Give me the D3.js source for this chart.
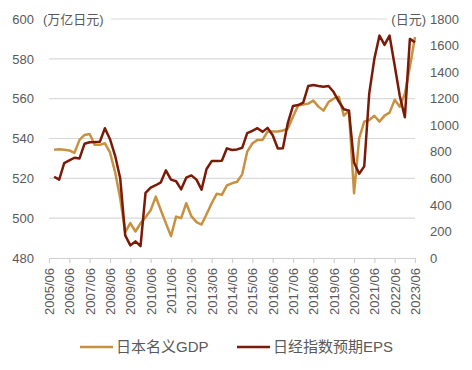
<!DOCTYPE html>
<html>
<head>
<meta charset="utf-8">
<script src="https://cdn.jsdelivr.net/npm/d3@7"></script>
<style>
  body { margin: 0; background: #fff; }
  svg { font-family: "Liberation Sans", "Noto Sans CJK SC", sans-serif; }
</style>
</head>
<body>
<svg id="chart" width="472" height="370"></svg>
<script>
// quarterly points, 2005/09 .. 2023/06
const quarters = d3.range(72).map(i => new Date(2005, 8 + 3 * i, 1))

// 日本名义GDP (万亿日元)
const gdp = [534.3, 534.6, 534.3, 534, 532.8, 539.3, 541.8, 542.3, 536.8, 536.8,
  537.6, 533, 523, 510, 493, 497.5, 493.3, 497.4, 500.5, 504,
  510.8, 504, 497.5, 491, 500.8, 500, 507.5, 501, 498, 496.8,
  502, 507.5, 512.3, 511.7, 516.5, 517.5, 518.3, 522, 533.4, 537.5,
  539.3, 539.3, 543.5, 543.5, 543.5, 544, 545, 551, 556.5, 557,
  557.5, 559, 556, 554, 558.3, 560, 561, 551.5, 554, 512.5,
  540, 548.5, 549.3, 551.4, 548.5, 551.5, 553, 559.4, 556, 562.5,
  576, 591]

// 日经指数预期EPS (日元)
const eps = [612, 590, 715, 735, 755, 750, 860, 872, 873, 875,
  977, 895, 770, 600, 170, 95, 125, 90, 490, 530,
  548, 570, 660, 590, 578, 517, 605, 622, 590, 515,
  670, 730, 730, 733, 826, 813, 818, 830, 940, 958,
  978, 950, 980, 925, 825, 826, 1020, 1145, 1152, 1170,
  1295, 1303, 1295, 1290, 1295, 1250, 1180, 1120, 1110, 720,
  635, 690, 1240, 1500, 1675, 1605, 1675, 1450, 1220, 1060,
  1650, 1625]

const tickYears = d3.range(2005, 2024)
const leftTicks = [480, 500, 520, 540, 560, 580, 600]
const rightTicks = [0, 200, 400, 600, 800, 1000, 1200, 1400, 1600, 1800]

const gold = "#C8913F"
const red = "#7A1A08"
const textColour = "#595959"

const svg = d3.select("#chart")
const plotLeft = 49, plotRight = 415, plotTop = 19, plotBottom = 258

const x = d3.scaleTime()
  .domain([new Date(2005, 5, 1), new Date(2023, 5, 1)])
  .range([plotLeft, plotRight])
const yL = d3.scaleLinear().domain([480, 600]).range([plotBottom, plotTop])
const yR = d3.scaleLinear().domain([0, 1800]).range([plotBottom, plotTop])

// gridlines
svg.append("g")
  .selectAll("line")
  .data(leftTicks.slice(1))
  .join("line")
  .attr("x1", plotLeft).attr("x2", plotRight)
  .attr("y1", d => yL(d)).attr("y2", d => yL(d))
  .attr("stroke", "#d9d9d9")
  .attr("stroke-width", 1.2)

// x axis
const xAxis = svg.append("g")
  .attr("transform", `translate(0,${plotBottom})`)
  .call(d3.axisBottom(x)
    .tickValues(tickYears.map(yr => new Date(yr, 5, 1)))
    .tickFormat(d3.timeFormat("%Y/%m"))
    .tickSize(5)
    .tickSizeOuter(0))
xAxis.select(".domain").attr("stroke", "#d0d0d0").attr("stroke-width", 1.2)
xAxis.selectAll(".tick line").attr("stroke", "#d0d0d0").attr("stroke-width", 1.2)
xAxis.selectAll(".tick text")
  .attr("fill", textColour)
  .style("font-size", "13px")
  .attr("transform", "rotate(-90)")
  .attr("text-anchor", "end")
  .attr("x", -10)
  .attr("y", 0)
  .attr("dy", "0.35em")

// left axis
const yAxisL = svg.append("g")
  .attr("transform", `translate(${plotLeft},0)`)
  .call(d3.axisLeft(yL).tickValues(leftTicks).tickSize(0).tickPadding(15))
yAxisL.select(".domain").remove()
yAxisL.selectAll("text").attr("fill", textColour).style("font-size", "13px")

// right axis
const yAxisR = svg.append("g")
  .attr("transform", `translate(${plotRight},0)`)
  .call(d3.axisRight(yR).tickValues(rightTicks).tickFormat(d3.format("d")).tickSize(0).tickPadding(15))
yAxisR.select(".domain").remove()
yAxisR.selectAll("text").attr("fill", textColour).style("font-size", "13px")

// unit labels
svg.append("rect").attr("x", 41).attr("y", 10).attr("width", 70).attr("height", 18).attr("fill", "#fff")
svg.append("text")
  .attr("x", 43).attr("y", plotTop).attr("dy", "0.35em")
  .attr("fill", textColour).style("font-size", "13px")
  .text("(万亿日元)")
svg.append("rect").attr("x", 387).attr("y", 10).attr("width", 40).attr("height", 18).attr("fill", "#fff")
svg.append("text")
  .attr("x", 426).attr("y", plotTop).attr("dy", "0.35em")
  .attr("text-anchor", "end")
  .attr("fill", textColour).style("font-size", "13px")
  .text("(日元)")

// lines
const lineL = d3.line().x((d, i) => x(quarters[i])).y(d => yL(d))
const lineR = d3.line().x((d, i) => x(quarters[i])).y(d => yR(d))

svg.append("path")
  .datum(gdp)
  .attr("d", lineL)
  .attr("fill", "none")
  .attr("stroke", gold)
  .attr("stroke-width", 2.5)
  .attr("stroke-linejoin", "round")

svg.append("path")
  .datum(eps)
  .attr("d", lineR)
  .attr("fill", "none")
  .attr("stroke", red)
  .attr("stroke-width", 2.5)
  .attr("stroke-linejoin", "round")

// legend
const legend = [
  { name: "日本名义GDP", colour: gold, x: 80 },
  { name: "日经指数预期EPS", colour: red, x: 237 }
]
const lg = svg.append("g")
  .selectAll("g")
  .data(legend)
  .join("g")
  .attr("transform", d => `translate(${d.x},347)`)
lg.append("line")
  .attr("x1", 0).attr("x2", 33)
  .attr("stroke", d => d.colour)
  .attr("stroke-width", 2.5)
lg.append("text")
  .attr("x", 36).attr("dy", "0.35em")
  .attr("fill", textColour)
  .style("font-size", "15px")
  .text(d => d.name)
</script>
</body>
</html>
